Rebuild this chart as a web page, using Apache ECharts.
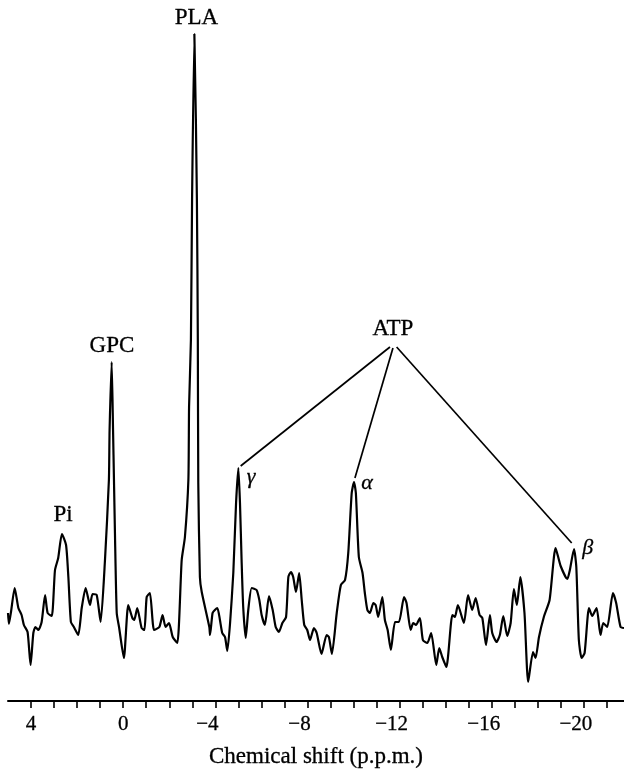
<!DOCTYPE html>
<html>
<head>
<meta charset="utf-8">
<style>html,body{margin:0;padding:0;background:#fff}#c{width:624px;height:769px}</style>
<script src="https://cdn.jsdelivr.net/npm/echarts@6/dist/echarts.min.js"></script>
</head>
<body>
<div id="c"></div>
<script>
const shiftPpm = [5.00,4.96,4.87,4.71,4.55,4.41,4.31,4.15,4.02,3.90,3.81,3.68,3.54,3.39,3.28,3.10,2.96,2.82,2.66,2.48,2.38,2.27,2.14,1.95,1.80,1.63,1.44,1.33,1.15,0.98,0.79,0.62,0.59,0.50,0.44,0.40,0.36,0.28,0.18,-0.03,-0.22,-0.40,-0.48,-0.61,-0.80,-0.92,-1.02,-1.16,-1.34,-1.57,-1.71,-1.84,-1.99,-2.15,-2.35,-2.54,-2.68,-2.83,-2.86,-2.94,-2.99,-3.09,-3.20,-3.24,-3.26,-3.33,-3.41,-3.74,
-3.77,-3.88,-3.98,-4.09,-4.20,-4.30,-4.42,-4.52,-4.64,-4.78,-4.90,-5.00,-5.07,-5.14,-5.21,-5.32,-5.43,-5.58,-5.79,-5.91,-6.01,-6.15,-6.33,-6.49,-6.62,-6.76,-6.91,-7.07,-7.17,-7.28,-7.38,-7.50,-7.64,-7.75,-7.86,-7.99,-8.11,-8.28,-8.40,-8.61,-8.83,-8.93,-9.06,-9.27,-9.45,-9.63,-9.77,-9.92,-10.02,-10.10,-10.23,-10.39,-10.49,-10.60,-10.71,-10.86,-10.96,-11.07,-11.25,-11.36,-11.48,-11.62,-11.80,-11.97,-12.19,-12.30,-12.48,-12.59,-12.71,-12.88,
-13.01,-13.20,-13.37,-13.59,-13.72,-13.85,-14.03,-14.29,-14.40,-14.53,-14.79,-14.97,-15.15,-15.30,-15.47,-15.59,-15.75,-15.92,-16.02,-16.21,-16.35,-16.50,-16.67,-16.82,-16.96,-17.09,-17.24,-17.42,-17.58,-17.79,-17.90,-18.05,-18.26,-18.51,-18.77,-18.99,-19.28,-19.39,-19.57,-19.67,-19.78,-19.90,-20.03,-20.22,-20.36,-20.55,-20.72,-20.84,-21.01,-21.26,-21.40,-21.59,-21.74];
const signal = [88,77,89,113,93,86,76,69,36,68,74,71,79,106,88,85,131,143,167,156,124,79,74,66,93,113,96,107,106,79,141,221,271,339,271,221,171,88,74,43,96,83,81,93,73,71,104,108,71,74,86,74,78,64,58,141,164,221,294,361,501,667,501,361,218,124,109,74,
66,88,91,93,81,68,64,50,78,128,198,233,198,141,94,63,91,113,111,101,86,76,105,91,74,69,78,84,124,129,124,109,128,101,76,71,61,73,68,47,66,64,47,88,116,121,148,208,219,208,144,128,108,91,88,98,96,84,104,81,71,51,79,79,104,98,71,78,76,83,
61,58,68,36,53,44,34,86,84,96,78,106,91,103,86,83,56,86,68,59,66,85,65,78,112,96,124,88,19,49,43,64,84,101,153,135,122,131,152,134,61,43,48,93,85,93,66,78,74,108,98,74,73];

const minorTicks = [4,3,2,1,0,-1,-2,-3,-4,-5,-6,-7,-8,-9,-10,-11,-12,-13,-14,-15,-16,-17,-18,-19,-20,-21];
const tickLabels = [4,0,-4,-8,-12,-16,-20];

const atpLeaders = [
  [[-11.58,354],[-5.10,235]],
  [[-11.71,353],[-10.06,223]],
  [[-11.87,354],[-19.47,158]]
];
const peakLabels = [
  ['PLA',-3.18,683],['GPC',0.49,355],['Pi',2.61,186],['ATP',-11.71,372]
];
const phosphateLabels = [
  ['γ',-5.55,224],['α',-10.58,218],['β',-20.17,153]
];

const FONT = '"Liberation Serif", serif';
const INK = '#000';
const heavy = {textBorderColor:INK,textBorderWidth:0.3};
const chart = echarts.init(document.getElementById('c'), null, {renderer:'canvas'});
const series = [{
  type:'line', data: shiftPpm.map((x,i)=>[x,signal[i]]), symbol:'none', smooth:0.2,
  clip:true, silent:true, lineStyle:{color:INK,width:2.2}, z:3
}];
atpLeaders.forEach(seg=>series.push({
  type:'line', data:seg, symbol:'none', silent:true, lineStyle:{color:INK,width:1.7}, z:2
}));
series.push({
  type:'scatter', symbolSize:0, silent:true, itemStyle:{opacity:1},
  data: peakLabels.map(l=>({value:[l[1],l[2]],name:l[0]})),
  label:Object.assign({show:true,position:'inside',formatter:'{b}',fontFamily:FONT,fontSize:23,color:INK,opacity:1},heavy)
});
series.push({
  type:'scatter', symbolSize:0, silent:true, itemStyle:{opacity:1},
  data: phosphateLabels.map(l=>({value:[l[1],l[2]],name:l[0]})),
  label:Object.assign({show:true,position:'inside',formatter:'{b}',fontFamily:FONT,fontStyle:'italic',fontSize:22,color:INK,opacity:1},heavy)
});
chart.setOption({
  animation:false, backgroundColor:'#fff',
  grid:{left:8,right:0,top:0,bottom:68,outerBoundsMode:'none'},
  xAxis:{
    type:'value', inverse:true, min:-21.74, max:5,
    name:'Chemical shift (p.p.m.)', nameLocation:'middle', nameGap:44,
    nameTextStyle:Object.assign({fontFamily:FONT,fontSize:23,color:INK},heavy),
    axisLine:{show:true,lineStyle:{color:INK,width:2}},
    axisTick:{show:true,length:7,inside:false,customValues:minorTicks,lineStyle:{color:INK,width:1.6}},
    axisLabel:{show:true,customValues:tickLabels,margin:13,
      formatter:v=> v<0 ? `{neg|−${-v}}` : `{pos|${v}}`,
      rich:{
        neg:Object.assign({fontFamily:FONT,fontSize:21,color:INK,padding:[0,16,0,0]},heavy),
        pos:Object.assign({fontFamily:FONT,fontSize:21,color:INK},heavy)
      }},
    splitLine:{show:false}
  },
  yAxis:{type:'value',min:0,max:701,show:false,splitLine:{show:false}},
  series
});
</script>
</body>
</html>
